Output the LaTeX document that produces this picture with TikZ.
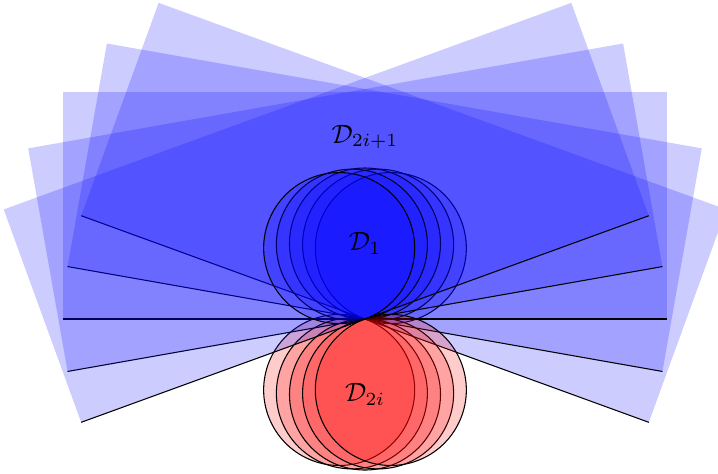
\documentclass[tikz,border=0pt]{standalone}
\begin{document}
\begin{tikzpicture}[
  plane/.style={fill=blue, fill opacity=0.2},
  edgeline/.style={draw=black, line width=0.4pt},
  upperdisk/.style={draw=black, fill=blue, fill opacity=0.2},
  lowerdisk/.style={draw=black, fill=red, fill opacity=0.2}]
\useasboundingbox (-4.834,-2.040) rectangle (4.675,4.225);
\coordinate (o) at (0,0);
\foreach \a in {-20,-10,0,10,20}{
  \begin{scope}[rotate=\a]
    \fill[plane] (-4,0) rectangle (4,3);
    \coordinate (l\a) at (-4,0);
    \coordinate (r\a) at (4,0);
    \draw[edgeline] (l\a) -- (o) -- (r\a);
    \draw[upperdisk] (0,1) circle (1);
    \draw[lowerdisk] (0,-1) circle (1);
  \end{scope}
}
\node (dodd) at (0,2.41) {$\mathcal{D}_{2i+1}$};
\node (done) at (0,1) {$\mathcal{D}_1$};
\node (deven) at (0,-1) {$\mathcal{D}_{2i}$};
\end{tikzpicture}
\end{document}
